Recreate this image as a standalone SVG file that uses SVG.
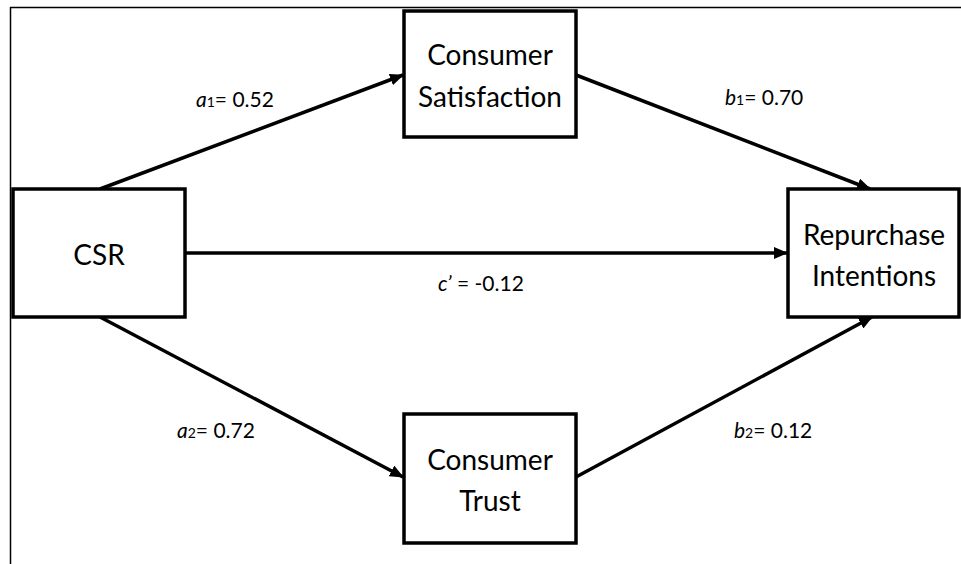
<svg xmlns="http://www.w3.org/2000/svg" width="961" height="564" viewBox="0 0 961 564">
<style>
.frame{fill:none;stroke:#000;stroke-width:1.5}
.box{fill:#fff;stroke:#000;stroke-width:3.5}
.node{font-family:Lato,"Open Sans","Liberation Sans",sans-serif;font-size:28px;fill:#000;text-anchor:middle}
.edge{stroke:#000;stroke-width:3.5;fill:none;marker-end:url(#ah)}
.lbl{font-family:Lato,"Open Sans","Liberation Sans",sans-serif;font-size:21px;fill:#000}
.it{font-style:italic}
.sub{font-size:14px}
</style>
<defs>
<marker id="ah" markerUnits="userSpaceOnUse" markerWidth="14" markerHeight="12" viewBox="0 0 14 12" refX="13" refY="6" orient="auto">
<path d="M0,0 L14,6 L0,12 Z" fill="#000"/>
</marker>
</defs>
<rect width="961" height="564" fill="#fff"/>
<path class="frame" d="M10.5,564 V7.5 H961"/>
<g id="connectors">
<line class="edge" x1="100" y1="189" x2="403" y2="75"/>
<line class="edge" x1="576" y1="75" x2="870" y2="189"/>
<line class="edge" x1="185" y1="253" x2="787" y2="253"/>
<line class="edge" x1="100" y1="317" x2="403" y2="477"/>
<line class="edge" x1="576" y1="477" x2="872" y2="317"/>
</g>
<g id="node-csr">
<rect class="box" x="13" y="189" width="172" height="128"/>
<text class="node" x="99" y="265">CSR</text>
</g>
<g id="node-satisfaction">
<rect class="box" x="404" y="11" width="172" height="126"/>
<text class="node" x="490" y="65">Consumer</text>
<text class="node" x="490" y="107">Satisfaction</text>
</g>
<g id="node-trust">
<rect class="box" x="404" y="414" width="172" height="129"/>
<text class="node" x="490" y="470">Consumer</text>
<text class="node" x="490" y="511">Trust</text>
</g>
<g id="node-repurchase">
<rect class="box" x="788" y="189" width="171" height="128"/>
<text class="node" x="874" y="245">Repurchase</text>
<text class="node" x="874" y="286">Intentions</text>
</g>
<g id="labels">
<text class="lbl" x="196" y="107"><tspan class="it">a</tspan><tspan class="sub">1</tspan>= 0.52</text>
<text class="lbl" x="725" y="105"><tspan class="it">b</tspan><tspan class="sub">1</tspan>= 0.70</text>
<text class="lbl" x="438" y="291"><tspan class="it">c’</tspan> = -0.12</text>
<text class="lbl" x="177" y="438"><tspan class="it">a</tspan><tspan class="sub">2</tspan>= 0.72</text>
<text class="lbl" x="734" y="438"><tspan class="it">b</tspan><tspan class="sub">2</tspan>= 0.12</text>
</g>
</svg>
